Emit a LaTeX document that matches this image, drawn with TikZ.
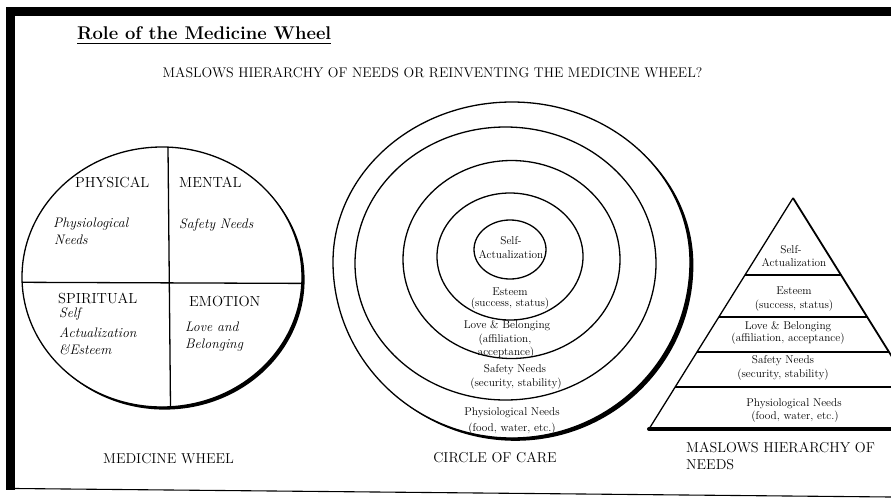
\documentclass[tikz,border=0pt]{standalone}
\usepackage{fontspec}
\usetikzlibrary{calc}
\begin{document}
\begin{tikzpicture}[x=1pt,y=-1pt,
  lbl/.style={inner sep=0pt, anchor=base},
  lblw/.style={inner sep=0pt, anchor=base west},
  ttl/.style={font=\fontsize{18.4}{22}\selectfont\bfseries},
  subt/.style={font=\fontsize{14}{16}\selectfont},
  wcap/.style={font=\fontsize{14.6}{17}\selectfont},
  wit/.style={font=\fontsize{13.8}{16}\selectfont\itshape},
  sm/.style={font=\fontsize{11.3}{13}\selectfont},
  capt/.style={font=\fontsize{14.3}{17}\selectfont},
  ring/.style={line width=1.3},
  pyr/.style={line width=1.3}]
\useasboundingbox (0,0) rectangle (891,498);
\clip (0,0) rectangle (891,498);

% frame
\fill (6,7) rectangle (891,16);
\fill (6,7) rectangle (15,490);
\coordinate (fbL) at (15,488.5);
\coordinate (fbR) at (891,497);
\draw[line width=1.1] (fbL) -- (fbR);

% titles
\node[lblw, ttl] (title) at (77,39.5) {Role of the Medicine Wheel};
\draw[line width=1.4] ($(title.base west)+(0,3.8)$) -- ($(title.base east)+(0,3.8)$);
\node[lbl, subt] (subtitle) at (432.5,77) {MASLOWS HIERARCHY OF NEEDS OR REINVENTING THE MEDICINE WHEEL?};

% ---------- medicine wheel ----------
\coordinate (mw) at (162,277);
\begin{scope}[even odd rule]
  \clip (-10,-10) rectangle (901,508) (mw) ellipse [x radius=140, y radius=130];
  \fill ($(mw)+(2.6,2.6)$) ellipse [x radius=140, y radius=130];
\end{scope}
\draw[ring] (mw) ellipse [x radius=140, y radius=130];
\coordinate (mwT) at (168,147.2);
\coordinate (mwB) at (170.5,406.8);
\coordinate (mwL) at (22.1,282.3);
\coordinate (mwR) at (301.9,283.4);
\draw[ring] (mwT) -- (mwB);
\draw[ring] (mwL) -- (mwR);

\node[lblw, wcap] (physical) at (75,187) {PHYSICAL};
\node[lblw, wcap] (mental) at (179,187) {MENTAL};
\node[lblw, wit] (phys1) at (53,227) {Physiological};
\node[lblw, wit] (phys2) at (54,244) {Needs};
\node[lblw, wit] (safety) at (179,228) {Safety Needs};
\node[lblw, wcap] (spiritual) at (58,303) {SPIRITUAL};
\node[lblw, wit] (spir1) at (59,317) {Self};
\node[lblw, wit] (spir2) at (59,337) {Actualization};
\node[lblw, wit] (spir3) at (59,354) {\&Esteem};
\node[lblw, wcap] (emotion) at (189,306) {EMOTION};
\node[lblw, wit] (emo1) at (185,331) {Love and};
\node[lblw, wit] (emo2) at (185,348) {Belonging};
\node[lbl, capt] (mwcap) at (168.5,463) {MEDICINE WHEEL};

% ---------- circle of care ----------
\coordinate (cAr) at (690,262);
\coordinate (cB) at (505.5,263.5);
\coordinate (cC) at (511.5,259.5);
\coordinate (cD) at (510,256.5);
\coordinate (cE) at (510,249.5);
\begin{scope}[even odd rule]
  \clip (-10,-10) rectangle (901,508)
    (cAr) arc[start angle=0, end angle=90, x radius=178, y radius=176]
          arc[start angle=90, end angle=180, x radius=179, y radius=176]
          arc[start angle=180, end angle=270, x radius=179, y radius=160]
          arc[start angle=270, end angle=360, x radius=178, y radius=160] -- cycle;
  \fill ($(cAr)+(3.4,2.8)$)
          arc[start angle=0, end angle=90, x radius=178, y radius=176]
          arc[start angle=90, end angle=180, x radius=179, y radius=176]
          arc[start angle=180, end angle=270, x radius=179, y radius=160]
          arc[start angle=270, end angle=360, x radius=178, y radius=160] -- cycle;
\end{scope}
\draw[ring] (cAr) arc[start angle=0, end angle=90, x radius=178, y radius=176]
          arc[start angle=90, end angle=180, x radius=179, y radius=176]
          arc[start angle=180, end angle=270, x radius=179, y radius=160]
          arc[start angle=270, end angle=360, x radius=178, y radius=160] -- cycle;
\draw[ring] (cB) ellipse [x radius=150.5, y radius=136.5];
\draw[ring] (cC) ellipse [x radius=108.5, y radius=99];
\draw[ring] (cD) ellipse [x radius=73, y radius=63.5];
\draw[ring] (cE) ellipse [x radius=36, y radius=29.5];

\node[lbl, sm] (cc1) at (511,244) {Self-};
\node[lbl, sm] (cc2) at (511,258) {Actualization};
\node[lbl, sm] (cc3) at (510,295) {Esteem};
\node[lbl, sm] (cc4) at (510,306) {(success, status)};
\node[lbl, sm] (cc5) at (507,328) {Love \& Belonging};
\node[lbl, sm] (cc6) at (505,342) {(affiliation,};
\node[lbl, sm] (cc7) at (506,355) {acceptance)};
\node[lbl, sm] (cc8) at (515,372) {Safety Needs};
\node[lbl, sm] (cc9) at (516,386) {(security, stability)};
\node[lbl, sm] (cc10) at (512,415) {Physiological Needs};
\node[lbl, sm] (cc11) at (512,431) {(food, water, etc.)};
\node[lbl, capt] (cccap) at (495,462) {CIRCLE OF CARE};

% ---------- pyramid ----------
\coordinate (apex) at (793,198);
\coordinate (pL) at (649,429);
\coordinate (pR) at (937,429);
\draw[pyr] (pL) -- (apex);
\draw[pyr, line width=1.8] (apex) -- (pR);
\foreach \t in {0.333,0.515,0.667,0.818}
  \draw[pyr] ($(apex)!\t!(pL)$) -- ($(apex)!\t!(pR)$);
\draw[line width=4, line cap=round] (pL) -- (pR);

\node[lbl, sm] (p1) at (791,253) {Self-};
\node[lbl, sm] (p2) at (794,266) {Actualization};
\node[lbl, sm] (p3) at (794,294) {Esteem};
\node[lbl, sm] (p4) at (794,308) {(success, status)};
\node[lbl, sm] (p5) at (788,329) {Love \& Belonging};
\node[lbl, sm] (p6) at (788,341) {(affiliation, acceptance)};
\node[lbl, sm] (p7) at (783,363) {Safety Needs};
\node[lbl, sm] (p8) at (783,377) {(security, stability)};
\node[lbl, sm] (p9) at (794,406) {Physiological Needs};
\node[lbl, sm] (p10) at (795,419) {(food, water, etc.)};
\node[lblw, capt] (mhcap1) at (686,452) {MASLOWS HIERARCHY OF};
\node[lblw, capt] (mhcap2) at (686,469) {NEEDS};
\end{tikzpicture}
\end{document}
